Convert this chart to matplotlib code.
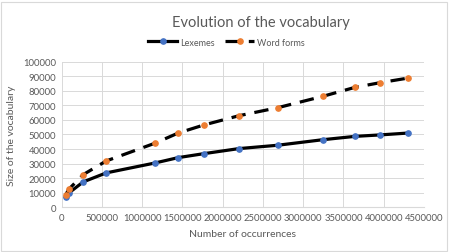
import matplotlib.pyplot as plt
from matplotlib.patches import Rectangle
from matplotlib.ticker import FuncFormatter

# occurrences (x) and vocabulary sizes
occurrences = [50000, 90000, 268000, 554000, 1159000, 1448000, 1764000,
               2202000, 2683000, 3242000, 3643000, 3954000, 4305000]
lexemes = [7000, 9800, 17400, 23600, 30400, 34100, 36800,
           40300, 42600, 46400, 48700, 49700, 51000]
word_forms = [8500, 12400, 22400, 31800, 44000, 51000, 56500,
              62900, 68400, 76200, 82400, 85600, 88800]

grey = '#595959'
plt.rcParams['font.family'] = ['Lato', 'DejaVu Sans']

fig = plt.figure(figsize=(4.53, 2.53), dpi=100)
ax = fig.add_axes([0.136, 0.177, 0.800, 0.575])

ax.plot(occurrences, lexemes, color='black', lw=2.3, zorder=3,
        marker='o', ms=3.8, mfc='#4472c4', mec='#4472c4', label='Lexemes')
ax.plot(occurrences, word_forms, color='black', lw=2.3, zorder=3,
        dashes=(4.5, 2.8), marker='o', ms=3.8, mfc='#ed7d31', mec='#ed7d31',
        label='Word forms')

ax.set_xlim(0, 4500000)
ax.set_ylim(0, 100000)
ax.set_xticks(range(0, 4500001, 500000))
ax.set_yticks(range(0, 100001, 10000))
plain = FuncFormatter(lambda v, p: f'{v:.0f}')
ax.xaxis.set_major_formatter(plain)
ax.yaxis.set_major_formatter(plain)
ax.grid(True, color='#d9d9d9', lw=0.7)
ax.set_axisbelow(True)
for s in ['top', 'right', 'left']:
    ax.spines[s].set_visible(False)
ax.spines['bottom'].set_color('#d9d9d9')
ax.tick_params(length=0, labelsize=6.8, colors=grey, pad=4)

ax.set_xlabel('Number of occurrences', fontsize=7.5, color=grey, labelpad=5)
ax.set_ylabel('Size of the vocabulary', fontsize=7.5, color=grey, labelpad=5)
fig.text(0.575, 0.91, 'Evolution of the vocabulary', ha='center', va='center',
         fontsize=10.5, color=grey)
fig.legend(loc='center', bbox_to_anchor=(0.5, 0.83), ncol=2, frameon=False,
           fontsize=6.5, labelcolor=grey, handlelength=3.2, columnspacing=1.2,
           handletextpad=0.3)

fig.patches.append(Rectangle((0.002, 0.004), 0.985, 0.985, transform=fig.transFigure,
                             fill=False, ec='#d9d9d9', lw=0.8))

fig.savefig('out.png', dpi=100)
